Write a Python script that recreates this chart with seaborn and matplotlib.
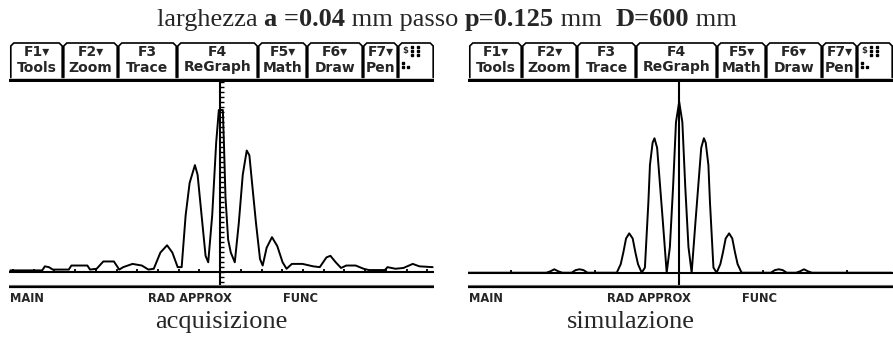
import numpy as np
import pandas as pd
import matplotlib
matplotlib.use("Agg")
import matplotlib.pyplot as plt
import seaborn as sns

# ---- data: diffraction profiles as shown on the two calculator screens ----
# position on the screen (graph units, axis at 0) and relative intensity
acq_x = [-79, -76.5, -67, -66, -64.5, -63, -57, -56, -50, -49, -46.5, -44, -40, -38,
         -36.5, -33, -29.5, -27, -25, -22.5, -20, -18, -16, -14.5, -13, -11.5, -9.5,
         -8.5, -7, -5.5, -4.5, -3, -1.5, -0.5, 1.0, 1.5, 2.0, 3.0, 4.0, 5.5, 7, 8.5,
         10, 11, 12, 13.5, 15, 16, 17.5, 19.5, 21.5, 23.5, 25, 27, 31, 35, 37.5, 40,
         41.5, 43.5, 45.5, 47.5, 51, 54, 56, 62, 63, 66, 69, 72.5, 75, 80]
acq_i = [0.01, 0.01, 0.01, 0.035, 0.03, 0.015, 0.015, 0.04, 0.04, 0.015, 0.02, 0.065,
         0.065, 0.015, 0.03, 0.05, 0.04, 0.015, 0.02, 0.12, 0.165, 0.12, 0.03, 0.03,
         0.35, 0.55, 0.66, 0.6, 0.35, 0.1, 0.06, 0.35, 0.8, 1.0, 1.0, 0.75, 0.46, 0.2,
         0.12, 0.06, 0.3, 0.6, 0.75, 0.72, 0.55, 0.3, 0.08, 0.04, 0.15, 0.215, 0.16,
         0.06, 0.02, 0.05, 0.05, 0.035, 0.03, 0.09, 0.1, 0.06, 0.025, 0.04, 0.04, 0.02,
         0.012, 0.012, 0.03, 0.02, 0.025, 0.05, 0.035, 0.03]

sim_x = [-79.5, -50, -48.5, -47, -45.5, -44, -40.5, -39, -37.5, -36, -34.5, -25, -23.5,
         -22, -21, -20, -18.8, -17.5, -16.5, -15.5, -14.1, -12.9, -11.6, -11.0, -10.0,
         -9.3, -8.3, -7.4, -6.1, -4.7, -3.5, -2.3, -1.2, 0, 1.2, 2.3, 3.5, 4.7, 6.1,
         7.4, 8.3, 9.3, 10.0, 11.0, 11.6, 12.9, 14.1, 15.5, 16.5, 17.5, 18.8, 20, 21,
         22, 23.5, 25, 34.5, 36, 37.5, 39, 40.5, 44, 45.5, 47, 48.5, 50, 80]
sim_i = [0, 0, 0.008, 0.02, 0.008, 0, 0, 0.015, 0.02, 0.015, 0, 0, 0, 0.05, 0.12, 0.2,
         0.23, 0.2, 0.12, 0.05, 0, 0.03, 0.41, 0.63, 0.76, 0.786, 0.73, 0.55, 0.29, 0,
         0.15, 0.5, 0.88, 1.0, 0.88, 0.5, 0.15, 0, 0.29, 0.55, 0.73, 0.786, 0.76, 0.63,
         0.41, 0.03, 0, 0.05, 0.12, 0.2, 0.23, 0.2, 0.12, 0.05, 0, 0, 0, 0.015, 0.02,
         0.015, 0, 0, 0.008, 0.02, 0.008, 0, 0]

title_parts = [("larghezza ", "normal"), ("a =0.04", "bold"), (" mm passo ", "normal"),
               ("p=0.125", "bold"), (" mm  ", "normal"), ("D=600", "bold"), (" mm", "normal")]
captions = ["acquisizione", "simulazione"]
tab_keys = ["F1▾", "F2▾", "F3", "F4", "F5▾", "F6▾", "F7▾"]
tab_names = ["Tools", "Zoom", "Trace", "ReGraph", "Math", "Draw", "Pen"]
status_items = ["MAIN", "RAD APPROX", "FUNC"]

# ---- layout (pixels) ----
W, H = 893, 342
PANEL_LEFT = [9, 468]
PANEL_W = 425
TOOL_TOP, GRAPH_TOP, GRAPH_BOT, STATUS_BOT = 40, 82, 287, 310
TAB_EDGES = [1, 54, 109, 168, 249, 298, 354, 389, 425]
STATUS_X = [1, 139, 274]
XLIM = (-79.5, 80.5)
YLIMS = [(-0.0926, 1.173), (-0.0836, 1.115)]
XSCL = [7.8, 31.6]
SERIF = "Liberation Serif"
TI_FONT = "DejaVu Sans"


def rect(x0, y0, x1, y1):
    return [x0 / W, 1 - y1 / H, (x1 - x0) / W, (y1 - y0) / H]


sns.set_theme(style="white")
plt.rcParams["font.family"] = ["DejaVu Sans"]

fig = plt.figure(figsize=(W / 100, H / 100), dpi=100)
fig.patch.set_facecolor("white")

profiles = [pd.DataFrame({"x": acq_x, "i": acq_i}),
            pd.DataFrame({"x": sim_x, "i": sim_i})]

for k, pl in enumerate(PANEL_LEFT):
    # graph window
    ax = fig.add_axes(rect(pl, GRAPH_TOP, pl + PANEL_W, GRAPH_BOT))
    ax.set_xlim(*XLIM)
    ax.set_ylim(*YLIMS[k])
    ax.axis("off")
    ax.axhline(0, color="black", lw=1.5)
    ax.axvline(0, color="black", lw=1.5)
    xt = XSCL[k] * np.arange(-12, 13)
    xt = xt[(xt > XLIM[0]) & (xt < XLIM[1]) & (xt != 0)]
    ax.vlines(xt, 0, 0.018, color="black", lw=1.3)
    if k == 0:
        yt = 0.0309 * np.arange(-2, 39)
        ax.hlines(yt, 0, 1.4, color="black", lw=1.0)
    sns.lineplot(data=profiles[k], x="x", y="i", ax=ax, color="black", lw=1.4,
                 estimator=None, sort=False)
    ax.set_xlabel("")
    ax.set_ylabel("")

    # toolbar
    tb = fig.add_axes(rect(pl, TOOL_TOP, pl + PANEL_W, GRAPH_TOP))
    tb.set_xlim(0, PANEL_W)
    tb.set_ylim(GRAPH_TOP, TOOL_TOP)
    tb.axis("off")
    top, bot, c = 43, 77.5, 3
    for j in range(len(TAB_EDGES) - 1):
        a, b = TAB_EDGES[j] + 0.8, TAB_EDGES[j + 1] - 0.8
        tb.plot([a, a, a + c, b - c, b, b], [bot, top + c, top, top, top + c, bot],
                color="black", lw=1.2, solid_joinstyle="miter")
        mid = (a + b) / 2
        if j < len(tab_keys):
            tb.text(mid, 52, tab_keys[j], ha="center", va="center", fontsize=10,
                    fontweight="bold", family=[TI_FONT])
            tb.text(mid, 67.5, tab_names[j], ha="center", va="center", fontsize=10,
                    fontweight="bold", family=[TI_FONT])
        else:
            tb.text(a + 6, 50, "$", ha="center", va="center", fontsize=6,
                    fontweight="bold", family=[TI_FONT])
            gx, gy = np.meshgrid([a + 13, a + 19], [47, 51, 55])
            tb.plot(gx.ravel(), gy.ravel(), "s", color="black", ms=1.6)
            tb.plot([a + 4, a + 4, a + 9], [63, 67, 67], "s", color="black", ms=1.6)
    tb.plot([0, PANEL_W], [78.5, 78.5], color="black", lw=1.0)
    tb.plot([0, PANEL_W], [80.8, 80.8], color="black", lw=1.6)

    # status line
    st = fig.add_axes(rect(pl, GRAPH_BOT - 4, pl + PANEL_W, STATUS_BOT))
    st.set_xlim(0, PANEL_W)
    st.set_ylim(STATUS_BOT, GRAPH_BOT - 4)
    st.axis("off")
    st.plot([0, PANEL_W], [285, 285], color="#777777", lw=0.8)
    st.plot([0, PANEL_W], [287, 287], color="black", lw=1.6)
    for sx, s in zip(STATUS_X, status_items):
        st.text(sx, 298, s, ha="left", va="center", fontsize=8.3,
                fontweight="bold", family=[TI_FONT])

# captions under the screens
for k, cap in enumerate(captions):
    cx = [221, 631][k]
    fig.text(cx / W, 1 - 328 / H, cap, ha="center", va="baseline", fontsize=19,
             family=[SERIF])

# title built from regular and bold pieces, centred on the figure
renderer = fig.canvas.get_renderer()
pieces = [fig.text(0, 1 - 26 / H, s, fontsize=19, fontweight=w, family=[SERIF],
                   va="baseline", ha="left") for s, w in title_parts]
widths = [p.get_window_extent(renderer).width for p in pieces]
x0 = W / 2 - sum(widths) / 2
for p, w in zip(pieces, widths):
    p.set_x(x0 / W)
    x0 += w

fig.savefig("out.png", dpi=100, facecolor="white")
